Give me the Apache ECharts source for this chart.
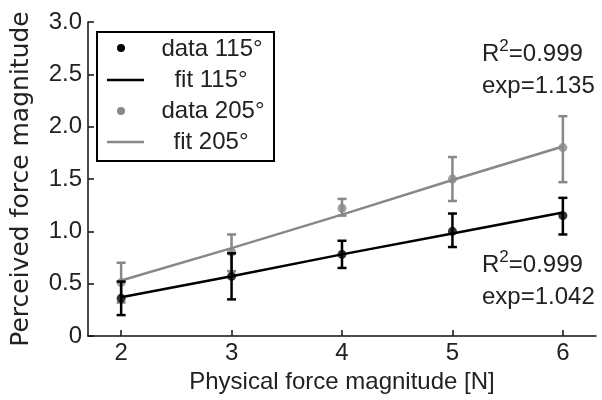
<!DOCTYPE html>
<html>
<head>
<meta charset="utf-8">
<script src="https://cdn.jsdelivr.net/npm/echarts@6/dist/echarts.min.js"></script>
<style>
  html, body { margin: 0; padding: 0; background: #fff; }
  #chart { width: 602px; height: 400px; }
</style>
</head>
<body>
<div id="chart"></div>
<script>
// Physical force [N]
var forces = [2, 3, 4, 5, 6];

// 115 deg condition
var mean115 = [0.36, 0.57, 0.78, 1.00, 1.15];
var low115 = [0.20, 0.35, 0.65, 0.85, 0.97];
var high115 = [0.52, 0.79, 0.91, 1.17, 1.32];
var fit115 = [0.37, 0.57, 0.78, 0.98, 1.18];

// 205 deg condition
var mean205 = [0.51, 0.80, 1.22, 1.50, 1.80];
var low205 = [0.32, 0.62, 1.15, 1.29, 1.47];
var high205 = [0.70, 0.97, 1.31, 1.71, 2.10];
var fit205 = [0.53, 0.84, 1.16, 1.49, 1.81];

var xTicks = [2, 3, 4, 5, 6];

var BLACK = "#000";
var GRAY = "#888";
var FONT = "Liberation Sans";
var FS = 24;

function pairs(xs, ys) {
  var out = [];
  for (var i = 0; i < xs.length; i++) out.push([xs[i], ys[i]]);
  return out;
}
function triples(xs, lo, hi) {
  var out = [];
  for (var i = 0; i < xs.length; i++) out.push([xs[i], lo[i], hi[i]]);
  return out;
}

// error bar drawn from [x, low, high]
function errorBar(color) {
  return function (params, api) {
    var top = api.coord([api.value(0), api.value(2)]);
    var bot = api.coord([api.value(0), api.value(1)]);
    var w = 4.5;
    var style = { stroke: color, lineWidth: 2.5 };
    return {
      type: "group",
      children: [
        { type: "line", shape: { x1: top[0], y1: top[1], x2: bot[0], y2: bot[1] }, style: style },
        { type: "line", shape: { x1: top[0] - w, y1: top[1], x2: top[0] + w, y2: top[1] }, style: style },
        { type: "line", shape: { x1: bot[0] - w, y1: bot[1], x2: bot[0] + w, y2: bot[1] }, style: style },
      ],
    };
  };
}

var chart = echarts.init(document.getElementById("chart"), null, { renderer: "canvas" });

var textStyle = { fontFamily: FONT, fontSize: FS, color: "#222" };
var legendFont = FS + "px " + FONT;
var statsRich = {
  r: { fontFamily: FONT, fontSize: FS, fill: "#222", lineHeight: 32 },
  sup: { fontFamily: FONT, fontSize: 17, fill: "#222", verticalAlign: "top", padding: [0, 0, 10, 0], lineHeight: 32 },
};

var option = {
  backgroundColor: "#fff",
  animation: false,
  grid: { left: 88, right: 6, top: 22, bottom: 64, containLabel: false, outerBoundsMode: "none" },
  xAxis: {
    type: "value",
    min: 1.7,
    max: 6.3,
    name: "Physical force magnitude [N]",
    nameLocation: "middle",
    nameGap: 34,
    nameTextStyle: textStyle,
    axisLine: { onZero: false, lineStyle: { color: "#111", width: 1.5 } },
    axisTick: { inside: true, length: 6, customValues: xTicks, lineStyle: { color: "#111", width: 1.5 } },
    axisLabel: Object.assign({ customValues: xTicks, margin: 5 }, textStyle),
    splitLine: { show: false },
  },
  yAxis: {
    type: "value",
    min: 0,
    max: 3,
    interval: 0.5,
    name: "Perceived force magnitude",
    nameLocation: "middle",
    nameGap: 54,
    nameTextStyle: { fontFamily: "DejaVu Sans", fontSize: 25, color: "#222" },
    axisLine: { show: true, lineStyle: { color: "#111", width: 1.5 } },
    axisTick: { show: true, inside: true, length: 6, lineStyle: { color: "#111", width: 1.5 } },
    axisLabel: Object.assign({
      margin: 6,
      formatter: function (v) { return v === 0 ? "0" : v.toFixed(1); },
    }, textStyle),
    splitLine: { show: false },
  },
  series: [
    {
      type: "custom",
      name: "err 205",
      renderItem: errorBar(GRAY),
      data: triples(forces, low205, high205),
      z: 2,
    },
    {
      type: "line",
      name: "fit 205°",
      data: pairs(forces, fit205),
      showSymbol: false,
      lineStyle: { color: GRAY, width: 2.5 },
      z: 3,
    },
    {
      type: "scatter",
      name: "data 205°",
      data: pairs(forces, mean205),
      symbolSize: 9,
      itemStyle: { color: GRAY },
      z: 4,
    },
    {
      type: "custom",
      name: "err 115",
      renderItem: errorBar(BLACK),
      data: triples(forces, low115, high115),
      z: 5,
    },
    {
      type: "line",
      name: "fit 115°",
      data: pairs(forces, fit115),
      showSymbol: false,
      lineStyle: { color: BLACK, width: 2.5 },
      z: 6,
    },
    {
      type: "scatter",
      name: "data 115°",
      data: pairs(forces, mean115),
      symbolSize: 9,
      itemStyle: { color: BLACK },
      z: 7,
    },
  ],
  graphic: [
    // legend box
    {
      type: "group",
      left: 96,
      top: 31,
      z: 100,
      children: [
        { type: "rect", shape: { x: 0, y: 0, width: 177, height: 129 }, style: { fill: "#fff", stroke: "#000", lineWidth: 2 } },
        { type: "circle", shape: { cx: 24, cy: 16, r: 4 }, style: { fill: BLACK } },
        { type: "text", x: 115, y: 17, style: { text: "data 115°", font: legendFont, fill: "#222", align: "center", verticalAlign: "middle" } },
        { type: "line", shape: { x1: 10, y1: 48, x2: 47, y2: 48 }, style: { stroke: BLACK, lineWidth: 2.5 } },
        { type: "text", x: 114, y: 48, style: { text: "fit 115°", font: legendFont, fill: "#222", align: "center", verticalAlign: "middle" } },
        { type: "circle", shape: { cx: 24, cy: 79, r: 4 }, style: { fill: GRAY } },
        { type: "text", x: 116, y: 79, style: { text: "data 205°", font: legendFont, fill: "#222", align: "center", verticalAlign: "middle" } },
        { type: "line", shape: { x1: 10, y1: 110, x2: 47, y2: 110 }, style: { stroke: GRAY, lineWidth: 2.5 } },
        { type: "text", x: 114, y: 110, style: { text: "fit 205°", font: legendFont, fill: "#222", align: "center", verticalAlign: "middle" } },
      ],
    },
    // fit stats, 205
    {
      type: "text",
      left: 482,
      top: 38,
      style: { text: "{r|R}{sup|2}{r|=0.999}\n{r|exp=1.135}", rich: statsRich },
    },
    // fit stats, 115
    {
      type: "text",
      left: 482,
      top: 249,
      style: { text: "{r|R}{sup|2}{r|=0.999}\n{r|exp=1.042}", rich: statsRich },
    },
  ],
};

chart.setOption(option);
</script>
</body>
</html>
